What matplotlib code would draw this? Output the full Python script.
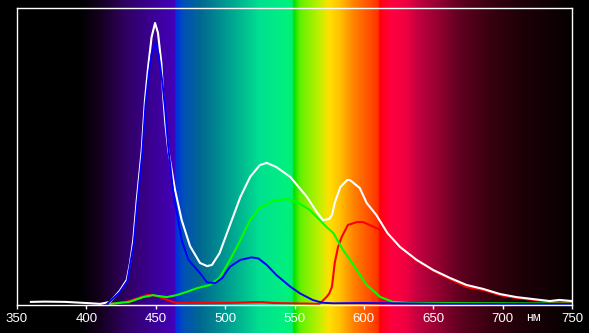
import matplotlib
matplotlib.use('Agg')
import matplotlib.pyplot as plt
import matplotlib.colors as mcolors
import numpy as np

# spectrum colours behind the plot (wavelength, colour)
spec_wl = [350, 395, 410, 428, 446, 463.5, 464.5, 470, 482, 503, 525, 543, 548.5, 549.5,
           554, 568, 575, 583, 593, 604, 610.5, 611.5, 620, 630, 640, 655, 669, 691, 712, 734, 750]
spec_col = ['#000000', '#000000', '#14001e', '#300060', '#3a0090', '#4400b8', '#0030e0', '#0050b8',
            '#006890', '#00a090', '#00e090', '#00f080', '#00f070', '#00e000', '#60f000', '#c0f000',
            '#ffe000', '#ffc000', '#ff8000', '#ff5000', '#ff3000', '#ff0010', '#ff0040', '#f00040',
            '#c00040', '#900030', '#600020', '#380010', '#200008', '#100004', '#050000']

# relative intensity curves
white_wl = [360, 370, 385, 400, 410, 417, 424, 429.1, 431.5, 433.8, 436.3, 439.9, 442.25, 444.5,
            447, 449.5, 451.6, 454, 455.4, 457, 459, 463.9, 468.7, 474.7, 481.9, 487, 490.5, 496,
            503, 511, 518, 525, 530, 537, 547, 559, 566, 570.5, 575, 577, 579, 583, 588, 590, 597,
            602, 609, 617, 626, 638, 650, 662, 674, 686, 698, 710, 722, 734, 741, 750]
white_val = [0.011, 0.012, 0.011, 0.007, 0.004, 0.011, 0.050, 0.089, 0.150, 0.230, 0.372, 0.550,
             0.727, 0.844, 0.950, 1.000, 0.965, 0.860, 0.740, 0.640, 0.550, 0.408, 0.301, 0.209,
             0.149, 0.138, 0.142, 0.184, 0.277, 0.383, 0.454, 0.496, 0.504, 0.489, 0.454, 0.383,
             0.330, 0.301, 0.305, 0.319, 0.362, 0.418, 0.443, 0.443, 0.415, 0.362, 0.319, 0.255,
             0.206, 0.160, 0.124, 0.096, 0.071, 0.057, 0.039, 0.028, 0.021, 0.014, 0.018, 0.014]

blue_wl = [415, 424, 429.5, 434.2, 436.7, 440.3, 442.6, 445, 447, 449.5, 452, 454.5, 456.7, 459,
           462.6, 468.7, 473.5, 481.9, 487, 493, 498, 503.5, 511, 519, 524, 530, 537, 547, 554,
           563, 570, 578, 600, 660, 750]
blue_val = [0.004, 0.045, 0.085, 0.220, 0.360, 0.540, 0.710, 0.820, 0.890, 0.929, 0.890, 0.800,
            0.700, 0.560, 0.400, 0.230, 0.160, 0.113, 0.080, 0.078, 0.096, 0.136, 0.160, 0.169,
            0.165, 0.142, 0.106, 0.065, 0.041, 0.018, 0.008, 0.006, 0.007, 0.004, 0.004]

green_wl = [417, 431, 441, 448, 451.6, 458, 465, 472, 480, 489, 496, 503.5, 511, 518, 525, 534.5,
            544.6, 552, 561, 573, 578, 585, 590, 602, 612, 621, 633, 700, 750]
green_val = [0.004, 0.011, 0.028, 0.035, 0.032, 0.028, 0.035, 0.046, 0.060, 0.071, 0.096, 0.160,
             0.230, 0.301, 0.344, 0.369, 0.376, 0.365, 0.337, 0.277, 0.255, 0.195, 0.160, 0.071,
             0.028, 0.011, 0.007, 0.006, 0.005]

red_wl = [417, 429, 443.7, 448, 453, 458, 465, 500, 520, 527, 535, 568, 573, 575, 577, 579, 581.4,
          584, 588.5, 595, 599.5, 604, 612, 617, 626, 638, 650, 662, 674, 686, 698, 710, 722, 734, 750]
red_val = [0.004, 0.011, 0.035, 0.035, 0.028, 0.018, 0.007, 0.007, 0.010, 0.010, 0.007, 0.004,
           0.028, 0.040, 0.065, 0.149, 0.206, 0.241, 0.284, 0.294, 0.294, 0.284, 0.266, 0.248,
           0.206, 0.156, 0.121, 0.092, 0.064, 0.053, 0.035, 0.025, 0.018, 0.011, 0.011]

ticks = [350, 400, 450, 500, 550, 600, 650, 700, 750]

fig = plt.figure(figsize=(5.89, 3.33), dpi=100, facecolor='black')

# spectrum background over the whole height
bg = fig.add_axes([17/589, 0, 555/589, 1])
grid = np.linspace(350, 750, 1200)
rgb = np.array([mcolors.to_rgb(c) for c in spec_col])
img = np.stack([np.interp(grid, spec_wl, rgb[:, k]) for k in range(3)], axis=-1)
bg.imshow(img[np.newaxis, :, :], extent=[350, 750, 0, 1], aspect='auto', interpolation='bilinear')
bg.set_xlim(350, 750)
bg.axis('off')

ax = fig.add_axes([17/589, 28/333, 555/589, 297/333])
ax.patch.set_alpha(0)
ax.plot(red_wl, red_val, color='#ff0000', lw=1.5)
ax.plot(green_wl, green_val, color='#00ff00', lw=1.5)
ax.plot(white_wl, white_val, color='white', lw=1.5)
ax.plot(blue_wl, blue_val, color='#0000ff', lw=1.4)
ax.set_xlim(350, 750)
ax.set_ylim(0, 297/282)

for s in ax.spines.values():
    s.set_color('white')
    s.set_linewidth(1.0)
ax.set_xticks(ticks)
ax.set_yticks([])
ax.tick_params(axis='x', colors='white', direction='out', length=3, width=1, pad=3,
               labelsize=9.5, labelfontfamily='Liberation Sans')
ax.text(722, -0.045, 'нм', transform=ax.get_xaxis_transform(), color='white',
        fontsize=8.5, fontfamily='Liberation Sans', ha='center', va='center')

fig.savefig('out.png', dpi=100, facecolor='black')
